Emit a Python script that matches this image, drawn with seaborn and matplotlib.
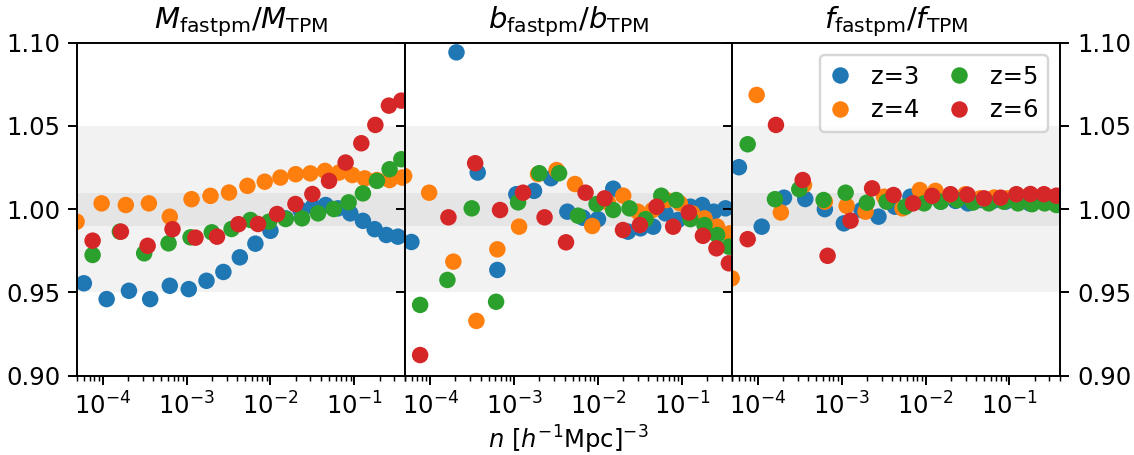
import numpy as np
import pandas as pd
import matplotlib
matplotlib.use("Agg")
import matplotlib.pyplot as plt
from matplotlib.lines import Line2D
import seaborn as sns

# ---------------- data ----------------
z_labels = ["z=3", "z=4", "z=5", "z=6"]
colors = ["#1f77b4", "#ff7f0e", "#2ca02c", "#d62728"]
titles = [r"$M_{\rm fastpm}/M_{\rm TPM}$", r"$b_{\rm fastpm}/b_{\rm TPM}$", r"$f_{\rm fastpm}/f_{\rm TPM}$"]
xlabel = r"$n\ [h^{-1}{\rm Mpc}]^{-3}$"
yticks = [0.90, 0.95, 1.00, 1.05, 1.10]

n_z3 = [5.98e-5, 1.117e-4, 2.06e-4, 3.69e-4, 6.32e-4, 1.064e-3, 1.730e-3, 2.75e-3, 4.32e-3, 6.62e-3,
        1.0e-2, 1.52e-2, 2.28e-2, 3.21e-2, 4.55e-2, 6.38e-2, 8.95e-2, 0.1265, 0.1746, 0.2404, 0.3304]
M_z3 = [0.9555, 0.946, 0.951, 0.946, 0.954, 0.952, 0.957, 0.9623, 0.9711, 0.9793,
        0.987, 0.9945, 0.9995, 1.0015, 1.0025, 1.0005, 0.9975, 0.993, 0.988, 0.9845, 0.9835]
b_z3 = [0.9803, np.nan, 1.0942, 1.022, 0.9635, 1.009, 1.011, 1.0186, 0.9985, 0.9949,
        0.994, 1.0123, 0.9865, 0.9885, 0.9895, 0.9975, 0.9935, 1.0015, 1.0025, 0.9985, 1.0005]
f_z3 = [1.0252, 0.9895, 1.0069, 1.0061, 1.000, 0.9915, 0.9995, 0.9955, 1.0015, 1.0075,
        1.0055, 1.0045, 1.005, 1.0035, 1.0055, 1.005, 1.0045, 1.005, 1.0035, 1.005, 1.0045]

n_z4 = [4.90e-5, 9.73e-5, 1.89e-4, 3.56e-4, 6.32e-4, 1.148e-3, 1.93e-3, 3.21e-3, 5.32e-3, 8.55e-3,
        1.315e-2, 2.0e-2, 2.99e-2, 4.47e-2, 6.56e-2, 9.46e-2, 0.1327, 0.1858, 0.263, 0.3724]
M_z4 = [0.9925, 1.0035, 1.0025, 1.0035, 0.9955, 1.006, 1.008, 1.010, 1.014, 1.0165,
        1.019, 1.021, 1.0215, 1.023, 1.022, 1.0205, 1.0185, 1.0175, 1.0175, 1.019]
b_z4 = [1.02, 1.0099, 0.9685, 0.9329, 0.9759, 0.9895, 1.0211, 1.0235, 1.0151, 0.9899,
        1.004, 1.0081, 0.9985, 0.9995, 1.0055, 1.0035, 0.9975, 0.9945, 0.9895, 0.9855]
f_z4 = [0.9585, 1.0686, 0.998, 1.0145, 1.0045, 1.002, 0.9985, 1.0075, 1.0005, 1.0115,
        1.011, 1.008, 1.009, 1.0065, 1.007, 1.0065, 1.0075, 1.007, 1.0075, 1.007]

n_z5 = [7.60e-5, 1.607e-4, 3.13e-4, 6.11e-4, 1.117e-3, 2.0e-3, 3.44e-3, 5.78e-3, 9.62e-3,
        1.52e-2, 2.38e-2, 3.69e-2, 5.68e-2, 8.55e-2, 0.1265, 0.1858, 0.263, 0.363]
M_z5 = [0.9725, 0.9865, 0.9735, 0.9795, 0.9831, 0.9861, 0.9881, 0.9935, 0.9925,
        0.9941, 0.9945, 0.9975, 1.0001, 1.0041, 1.0095, 1.017, 1.024, 1.030]
b_z5 = [0.9425, 0.9575, 1.0005, 0.9444, 1.0041, 1.0216, 1.0216, 0.9961, 1.0031,
        0.9995, 1.0005, 0.994, 1.0081, 1.0055, 0.994, 0.9905, 0.9845, 0.9775]
f_z5 = [1.039, 1.006, 1.012, 1.0055, 1.0099, 1.0039, 1.0045, 1.0015, 1.0035,
        1.0045, 1.0055, 1.004, 1.0035, 1.0045, 1.0035, 1.003, 1.0035, 1.0025]

n_z6 = [7.60e-5, 1.652e-4, 3.44e-4, 6.81e-4, 1.279e-3, 2.31e-3, 4.16e-3, 7.11e-3, 1.2e-2,
        1.986e-2, 3.16e-2, 4.99e-2, 7.87e-2, 0.121, 0.178, 0.258, 0.363]
M_z6 = [0.9811, 0.9865, 0.978, 0.988, 0.9829, 0.9835, 0.991, 0.9911, 0.9971,
        1.0031, 1.0091, 1.017, 1.028, 1.0396, 1.0506, 1.0622, 1.0652]
b_z6 = [0.9124, 0.9951, 1.0276, 0.9995, 1.0099, 0.9951, 0.9801, 1.0099, 1.0065,
        0.9875, 0.9905, 1.0015, 0.9895, 0.998, 0.984, 0.9765, 0.9675]
f_z6 = [0.982, 1.0506, 1.0175, 0.972, 0.9931, 1.0125, 1.0085, 1.0035, 1.008,
        1.009, 1.0087, 1.0065, 1.0069, 1.009, 1.0091, 1.009, 1.0081]

frames = []
for lab, n, M, b, f in [(z_labels[0], n_z3, M_z3, b_z3, f_z3),
                        (z_labels[1], n_z4, M_z4, b_z4, f_z4),
                        (z_labels[2], n_z5, M_z5, b_z5, f_z5),
                        (z_labels[3], n_z6, M_z6, b_z6, f_z6)]:
    frames.append(pd.DataFrame({"n": n, "z": lab, "M": M, "b": b, "f": f}))
df = pd.concat(frames, ignore_index=True)

# ---------------- plot ----------------
DPI = 175
MS = 46
fig, axes = plt.subplots(1, 3, figsize=(1134 / DPI, 455 / DPI), dpi=DPI, sharey=True)
fig.subplots_adjust(left=0.0682, right=0.9347, bottom=0.1743, top=0.9062, wspace=0)

for i, (ax, col) in enumerate(zip(axes, ["M", "b", "f"])):
    ax.axhspan(0.95, 1.05, color="k", alpha=0.05, lw=0, zorder=0)
    ax.axhspan(0.99, 1.01, color="k", alpha=0.05, lw=0, zorder=0)
    sns.scatterplot(data=df, x="n", y=col, hue="z", hue_order=z_labels, palette=colors,
                    s=MS, linewidth=0, ax=ax, legend=False, zorder=2)
    ax.set_xscale("log")
    ax.set_xlim(5e-5, 0.4)
    ax.set_ylim(0.90, 1.10)
    ax.set_yticks(yticks)
    ax.set_title(titles[i])
    ax.set_xlabel("")
    ax.set_ylabel("")

axes[1].tick_params(axis="y", labelleft=False)
axes[2].tick_params(axis="y", left=True, right=True, labelleft=False, labelright=True)
axes[1].set_xlabel(xlabel, labelpad=1.5)

handles = [Line2D([], [], ls="", marker="o", markersize=np.sqrt(MS), color=c, markeredgewidth=0)
           for c in colors]
axes[2].legend(handles, z_labels, ncol=2, loc="upper right", handlelength=0.9,
               columnspacing=1.2, labelspacing=0.4)

fig.savefig("out.png", dpi=DPI)
